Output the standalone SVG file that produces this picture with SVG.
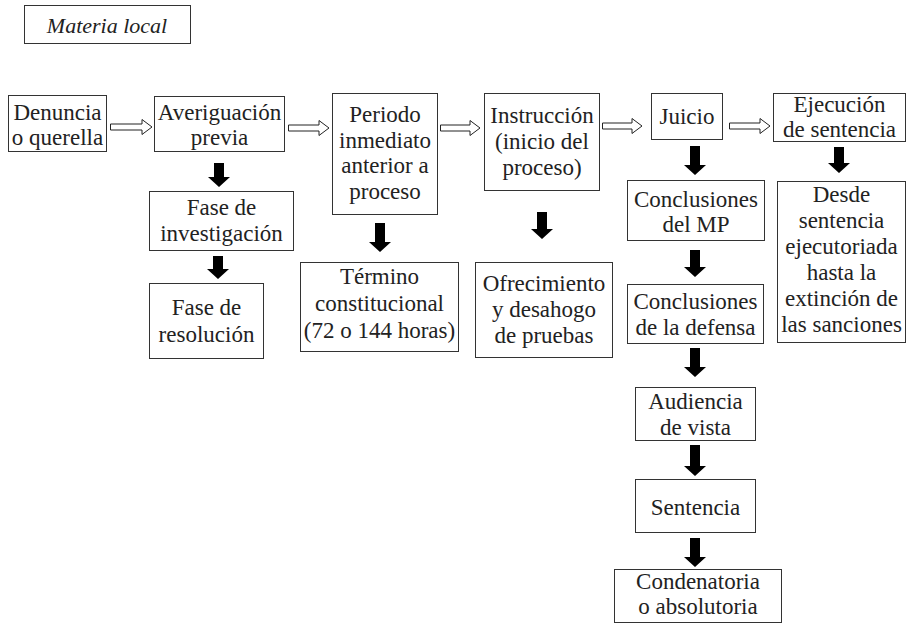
<svg xmlns="http://www.w3.org/2000/svg" width="909" height="624" viewBox="0 0 909 624">
<style>
.box{fill:#fff;stroke:#333;stroke-width:1}
text{font-family:"Liberation Serif","Times New Roman",serif;font-size:23px;fill:#222;text-anchor:middle}
.it{font-style:italic;font-size:22px}
.ha{fill:#fff;stroke:#222;stroke-width:1}
.da{fill:#000}
</style>
<rect width="909" height="624" fill="#fff"/>
<g id="title"><rect class="box" x="24.5" y="5.5" width="166" height="38"/><text class="it" x="107" y="33">Materia local</text></g>
<g id="denuncia"><rect class="box" x="8.5" y="95.5" width="98" height="56"/><text x="57.5" y="120">Denuncia</text><text x="57.5" y="145">o querella</text></g>
<g id="averiguacion"><rect class="box" x="154.5" y="96.5" width="130" height="55"/><text x="219.5" y="120">Averiguación</text><text x="219.5" y="145">previa</text></g>
<g id="periodo"><rect class="box" x="332.5" y="93.5" width="105" height="121"/><text x="385" y="122">Periodo</text><text x="385" y="147.5">inmediato</text><text x="385" y="173">anterior a</text><text x="385" y="198.5">proceso</text></g>
<g id="instruccion"><rect class="box" x="484.5" y="93.5" width="115" height="97"/><text x="542" y="123">Instrucción</text><text x="542" y="149">(inicio del</text><text x="542" y="175">proceso)</text></g>
<g id="juicio"><rect class="box" x="651.5" y="93.5" width="71" height="46"/><text x="687" y="124">Juicio</text></g>
<g id="ejecucion"><rect class="box" x="773.5" y="93.5" width="132" height="48"/><text x="839.5" y="112">Ejecución</text><text x="839.5" y="137">de sentencia</text></g>
<g id="fase-investigacion"><rect class="box" x="149.5" y="191.5" width="144" height="59"/><text x="221.5" y="215">Fase de</text><text x="221.5" y="241">investigación</text></g>
<g id="fase-resolucion"><rect class="box" x="149.5" y="283.5" width="114" height="75"/><text x="206.5" y="315">Fase de</text><text x="206.5" y="342">resolución</text></g>
<g id="termino"><rect class="box" x="300.5" y="262.5" width="158" height="89"/><text x="379.5" y="284">Término</text><text x="379.5" y="311">constitucional</text><text x="379.5" y="338">(72 o 144 horas)</text></g>
<g id="ofrecimiento"><rect class="box" x="475.5" y="262.5" width="137" height="95"/><text x="544" y="291">Ofrecimiento</text><text x="544" y="317">y desahogo</text><text x="544" y="343">de pruebas</text></g>
<g id="conclusiones-mp"><rect class="box" x="627.5" y="180.5" width="137" height="60"/><text x="696" y="207">Conclusiones</text><text x="696" y="232">del MP</text></g>
<g id="desde"><rect class="box" x="777.5" y="181.5" width="128" height="161"/><text x="841.5" y="202">Desde</text><text x="841.5" y="228">sentencia</text><text x="841.5" y="254">ejecutoriada</text><text x="841.5" y="280">hasta la</text><text x="841.5" y="306">extinción de</text><text x="841.5" y="332">las sanciones</text></g>
<g id="conclusiones-defensa"><rect class="box" x="627.5" y="284.5" width="136" height="59"/><text x="695.5" y="309">Conclusiones</text><text x="695.5" y="335">de la defensa</text></g>
<g id="audiencia"><rect class="box" x="635.5" y="387.5" width="120" height="53"/><text x="695.5" y="409">Audiencia</text><text x="695.5" y="435">de vista</text></g>
<g id="sentencia"><rect class="box" x="635.5" y="479.5" width="120" height="53"/><text x="695.5" y="515">Sentencia</text></g>
<g id="condenatoria"><rect class="box" x="614.5" y="569.5" width="167" height="53"/><text x="698" y="589">Condenatoria</text><text x="698" y="614">o absolutoria</text></g>
<g id="connectors">
<path class="ha" d="M110.5,124 H142 V119.5 L152,127 L142,134.5 V130 H110.5 Z"/>
<path class="ha" d="M288.5,125 H319 V120.5 L329,128 L319,135.5 V131 H288.5 Z"/>
<path class="ha" d="M440.5,125 H470 V120.5 L480,128 L470,135.5 V131 H440.5 Z"/>
<path class="ha" d="M602.5,123 H632 V118.5 L642,126 L632,133.5 V129 H602.5 Z"/>
<path class="ha" d="M729.5,123 H760 V118.5 L770,126 L760,133.5 V129 H729.5 Z"/>
<path class="da" d="M214,163 H224 V177 H230 L219,187 L208,177 H214 Z"/>
<path class="da" d="M213,256 H223 V269 H229 L218,279 L207,269 H213 Z"/>
<path class="da" d="M375,223 H385 V242 H391 L380,252 L369,242 H375 Z"/>
<path class="da" d="M537,212 H547 V229 H553 L542,239 L531,229 H537 Z"/>
<path class="da" d="M690,146 H700 V165 H706 L695,175 L684,165 H690 Z"/>
<path class="da" d="M834,147 H844 V163 H850 L839,173 L828,163 H834 Z"/>
<path class="da" d="M690,250 H700 V267 H706 L695,277 L684,267 H690 Z"/>
<path class="da" d="M690,348 H700 V367 H706 L695,377 L684,367 H690 Z"/>
<path class="da" d="M690,445 H700 V466 H706 L695,476 L684,466 H690 Z"/>
<path class="da" d="M690,538 H700 V557 H706 L695,567 L684,557 H690 Z"/>
</g>
</svg>
